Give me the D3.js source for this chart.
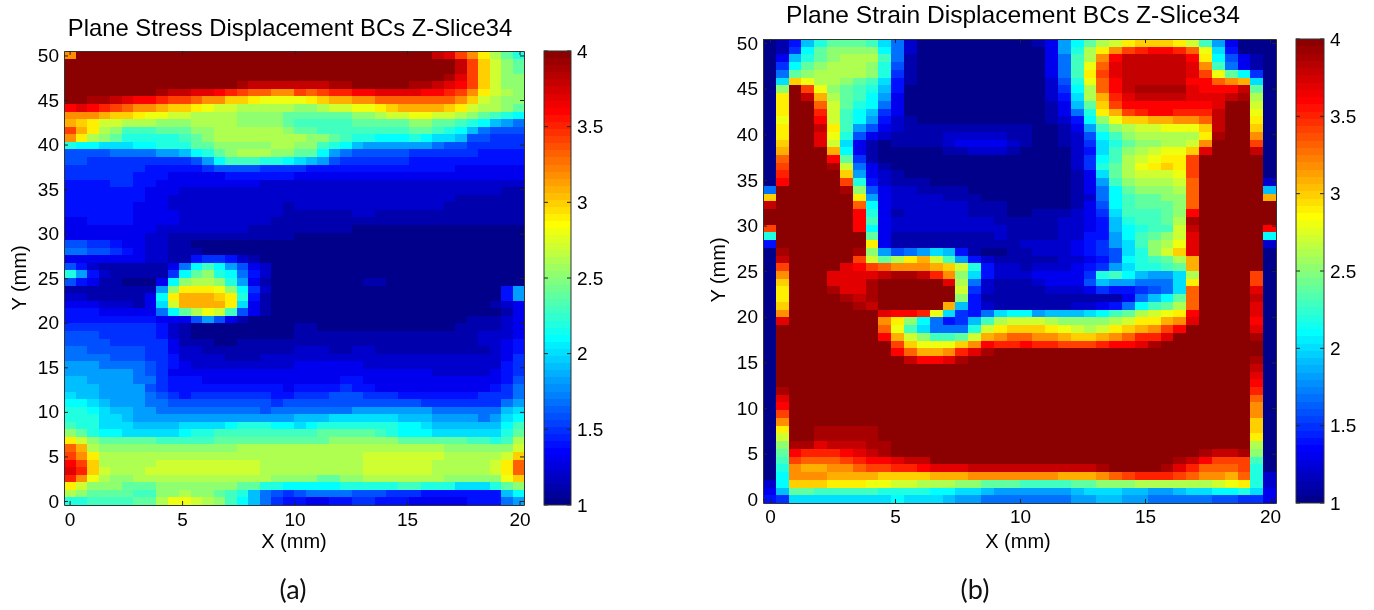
<!DOCTYPE html>
<html>
<head>
<title>Plane stress and plane strain displacement BCs</title>
<script src="https://d3js.org/d3.v7.min.js"></script>
<style>
    body { margin: 0; background: #fff; }
    svg { display: block; }
    text { font-family: "Liberation Sans", Arial, sans-serif; fill: #111; }
</style>
</head>
<body>
<div id="chart"></div>
<script>
// tick labels
const xTicks = [0, 5, 10, 15, 20];
const yTicks = [0, 5, 10, 15, 20, 25, 30, 35, 40, 45, 50];
const barTicks = [1, 1.5, 2, 2.5, 3, 3.5, 4];

// cell values x10, top row is Y = 50
const stressValues = [
[32,40,40,40,40,40,40,40,40,40, 40,40,40,40,40,40,40,40,40,40, 40,40,40,40,40,40,40,40,40,40, 40,40,38,37,34,32,29,26,24,22],
[40,40,40,40,40,40,40,40,40,40, 40,40,40,40,40,40,40,40,40,40, 40,40,40,40,40,40,40,40,40,40, 40,40,40,40,38,34,30,27,25,24],
[40,40,40,40,40,40,40,40,40,40, 40,40,40,40,40,40,40,40,40,40, 40,40,40,40,40,40,40,40,40,40, 40,40,40,40,38,34,30,27,25,24],
[40,40,40,40,40,40,40,40,40,40, 40,40,40,40,40,40,40,40,40,40, 40,40,40,40,40,40,40,40,40,40, 40,40,40,39,37,34,30,27,25,25],
[40,40,40,40,40,40,40,40,40,40, 40,40,40,40,40,39,38,38,38,38, 38,38,38,39,39,40,40,40,40,40, 39,39,38,37,36,34,30,27,25,25],
[40,40,40,40,40,40,40,40,39,38, 38,37,37,36,35,34,33,33,32,32, 34,33,34,35,35,36,36,37,37,37, 37,36,36,35,34,32,29,27,26,25],
[40,40,39,39,38,37,36,36,35,34, 34,33,32,32,30,30,29,28,28,28, 28,29,30,31,31,32,32,33,33,33, 33,33,33,33,32,30,27,26,25,25],
[36,37,36,35,34,33,32,32,31,30, 30,29,28,27,27,26,26,26,26,26, 25,25,26,27,27,28,28,29,30,31, 31,31,31,30,29,27,26,26,25,24],
[32,32,32,31,30,30,29,28,28,27, 27,26,26,26,26,25,25,25,25,24, 24,24,24,24,24,25,25,26,27,27, 28,28,27,27,26,25,24,23,22,21],
[31,30,29,27,27,26,26,26,25,25, 25,26,26,26,26,25,25,25,25,24, 23,23,23,23,23,24,24,24,24,24, 25,25,24,24,23,22,21,19,18,17],
[34,31,29,26,25,23,23,23,24,24, 24,25,25,26,26,26,26,26,26,25, 24,24,23,23,23,23,23,23,23,23, 24,24,23,22,21,19,17,16,16,16],
[32,29,26,25,24,22,22,22,22,22, 23,24,25,26,26,26,26,26,26,26, 26,25,25,24,23,22,22,21,21,21, 22,21,20,20,19,16,16,15,15,15],
[22,21,21,20,20,20,21,21,22,22, 22,24,24,25,25,25,25,25,26,26, 25,25,23,22,21,19,18,18,18,18, 18,18,17,16,16,15,15,15,15,15],
[16,16,16,16,17,17,17,17,18,18, 19,21,22,24,25,26,26,26,25,25, 24,24,21,18,17,16,16,16,16,16, 15,15,15,15,15,15,14,14,14,14],
[16,16,15,15,15,15,15,15,15,15, 15,16,18,21,23,23,23,22,22,21, 20,19,18,16,15,15,15,15,15,15, 14,14,14,14,14,14,14,14,14,14],
[15,15,15,15,15,15,15,14,14,14, 14,14,15,16,16,16,16,15,15,15, 15,14,14,14,14,14,14,14,14,14, 14,14,14,14,13,13,13,13,13,13],
[15,15,15,15,15,15,14,14,14,13, 13,13,13,13,14,14,14,14,14,14, 13,13,13,13,13,13,13,13,13,13, 13,13,13,13,13,13,13,13,13,13],
[14,14,14,14,15,15,14,14,13,13, 13,13,13,13,13,13,13,12,12,12, 12,12,12,12,12,12,12,12,12,12, 12,12,12,12,12,12,12,12,12,12],
[14,14,14,14,14,14,14,13,13,13, 12,12,12,12,12,12,12,12,12,12, 12,12,12,12,12,12,12,12,12,12, 12,12,12,12,12,12,12,12,11,11],
[14,14,14,14,14,14,14,13,13,12, 12,12,12,12,12,12,12,12,12,12, 12,12,12,12,12,12,12,12,12,12, 12,12,12,12,11,11,11,11,11,11],
[14,14,14,14,14,14,13,13,13,12, 12,12,12,12,12,12,12,12,12,11, 12,12,12,12,12,12,12,12,12,12, 12,12,12,11,11,11,11,11,11,11],
[14,14,14,14,14,14,13,13,13,13, 12,12,12,12,12,12,12,12,12,11, 11,11,11,11,11,12,12,11,11,11, 11,11,11,11,11,11,11,11,11,11],
[13,13,14,14,14,14,13,13,13,13, 12,12,12,12,12,12,12,12,11,11, 11,11,11,11,11,11,11,11,11,11, 11,11,11,11,11,11,11,11,11,11],
[13,13,13,13,13,13,13,13,12,12, 12,12,12,12,12,12,11,11,11,11, 11,11,11,11,11,10,10,10,10,10, 10,10,10,10,10,10,10,10,10,10],
[13,13,13,13,13,13,13,12,12,11, 11,11,11,11,11,11,11,11,11,11, 10,10,10,10,10,10,10,10,10,10, 10,10,10,10,10,10,10,10,10,10],
[16,16,15,15,14,13,13,12,12,11, 11,10,10,10,10,10,10,10,10,10, 10,10,10,10,10,10,10,10,10,10, 10,10,10,10,10,10,10,10,10,10],
[17,17,16,16,15,14,13,12,12,11, 11,11,10,10,10,10,10,10,10,10, 10,10,10,10,10,10,10,10,10,10, 10,10,10,10,10,10,10,10,10,10],
[13,13,13,13,13,13,13,12,12,11, 11,14,15,15,14,12,11,10,10,10, 10,10,10,10,10,10,10,10,10,10, 10,10,10,10,10,10,10,10,10,10],
[16,14,12,11,11,11,11,11,11,13, 17,21,23,21,18,16,13,12,10,10, 10,10,10,10,10,10,10,10,10,10, 10,10,10,10,10,10,10,10,10,10],
[22,18,14,12,11,11,11,11,11,15, 21,24,25,22,21,17,14,12,10,10, 10,10,10,10,10,10,10,10,10,10, 10,10,10,10,10,10,10,10,10,10],
[16,14,13,11,11,10,10,10,13,21, 25,26,26,25,22,18,13,11,10,10, 10,10,10,10,10,10,11,11,10,10, 10,10,10,10,10,10,10,10,10,10],
[11,11,11,11,11,11,11,11,18,25, 29,29,29,28,25,21,15,12,10,10, 10,10,10,10,10,10,10,10,10,10, 10,10,10,10,10,10,10,10,14,18],
[12,12,11,11,11,11,11,13,21,29, 31,31,31,30,29,22,14,11,10,10, 10,10,10,10,10,10,10,10,10,10, 10,10,10,10,10,10,10,10,14,18],
[13,13,13,12,12,12,11,13,20,27, 31,31,31,31,29,20,13,11,10,10, 10,10,10,10,10,10,10,10,10,10, 10,10,10,10,10,10,10,11,12,13],
[14,14,14,13,13,13,13,13,17,21, 24,26,28,27,23,16,13,11,10,10, 10,10,10,10,10,10,10,10,10,10, 10,10,10,10,10,10,10,10,11,13],
[14,14,14,14,14,14,14,14,13,13, 13,16,18,16,13,11,10,10,10,10, 10,10,10,10,10,10,10,10,10,10, 10,10,10,10,10,11,11,11,12,13],
[15,15,15,15,15,15,15,15,14,12, 11,10,10,10,10,10,10,10,10,10, 11,11,10,10,10,10,10,10,10,10, 10,10,10,10,11,11,11,11,12,13],
[16,16,16,15,15,15,15,15,14,12, 11,10,10,10,10,10,10,10,10,10, 11,11,11,11,11,11,11,11,11,11, 11,11,11,11,11,11,12,12,12,13],
[16,16,16,16,15,15,15,15,15,13, 11,11,11,10,10,11,11,11,11,11, 11,11,11,11,11,11,11,11,11,11, 11,11,11,11,11,11,12,12,13,14],
[17,17,16,16,16,16,16,15,15,13, 12,12,11,11,11,11,11,11,11,11, 12,12,12,11,11,12,12,11,11,11, 11,11,11,11,11,11,11,12,13,14],
[17,17,17,17,16,16,16,15,15,14, 12,12,12,12,11,11,11,12,12,12, 12,12,12,12,12,12,12,12,12,12, 12,12,12,12,12,12,12,12,13,15],
[18,18,18,17,17,17,17,16,15,14, 13,12,12,12,12,12,12,12,12,12, 13,13,13,13,13,13,12,12,12,12, 12,12,12,12,12,12,12,12,14,15],
[18,18,18,18,18,18,17,16,15,13, 13,13,13,13,13,13,13,13,13,13, 13,13,13,13,13,13,13,13,13,13, 13,13,12,12,12,12,12,13,14,15],
[19,19,18,18,18,18,17,17,15,14, 14,14,13,13,13,13,13,13,13,13, 13,13,13,13,14,14,13,13,13,13, 13,13,13,13,13,13,13,13,14,16],
[19,19,19,18,18,18,18,16,15,14, 14,14,14,14,14,14,14,14,14,13, 14,14,14,14,15,14,14,13,13,13, 13,13,13,13,13,13,13,14,15,17],
[20,19,19,18,18,18,18,17,16,15, 14,15,15,15,15,15,15,15,14,14, 15,15,15,16,16,16,15,15,15,14, 14,14,14,14,14,14,15,15,15,17],
[21,21,20,19,18,18,18,17,17,16, 16,16,16,16,16,16,16,16,15,16, 16,16,16,16,16,16,16,16,16,16, 16,15,15,15,15,15,15,15,17,18],
[22,22,21,20,19,19,18,18,17,17, 17,17,17,17,17,17,17,16,17,17, 17,17,17,17,17,18,18,18,18,18, 18,18,17,17,17,17,17,17,19,20],
[22,22,22,20,20,19,18,18,18,18, 18,18,18,18,18,18,18,18,18,18, 19,19,19,20,20,20,20,20,20,19, 19,19,18,18,18,18,17,18,20,21],
[23,22,22,20,20,20,19,19,19,19, 20,20,20,20,21,22,22,22,21,21, 20,21,22,22,22,22,22,22,22,21, 21,20,19,19,19,19,19,19,21,23],
[25,24,22,21,21,20,20,20,20,20, 21,22,22,23,23,23,23,23,23,23, 23,23,24,24,24,24,24,23,22,21, 21,21,20,20,20,20,20,20,22,24],
[29,27,25,24,24,24,24,24,23,23, 23,23,23,24,24,24,24,24,24,24, 24,24,24,25,25,25,25,25,25,24, 24,24,24,24,24,23,23,22,23,26],
[33,31,26,25,25,25,25,25,25,25, 25,25,25,25,25,26,26,26,26,26, 26,26,26,26,26,26,26,26,26,26, 26,26,26,25,25,25,25,25,25,27],
[34,32,29,26,26,26,26,26,26,26, 26,26,26,26,26,26,26,26,26,26, 26,26,26,26,26,26,27,27,27,27, 27,27,27,26,26,26,26,26,27,30],
[36,34,30,26,26,26,26,26,27,27, 27,27,27,27,27,27,27,26,26,26, 26,26,26,26,26,26,27,27,27,27, 27,27,26,26,26,26,26,27,29,33],
[37,35,30,27,26,26,26,27,27,27, 27,27,27,27,27,27,27,26,26,26, 26,26,26,26,26,26,27,27,27,27, 27,27,26,26,26,26,26,27,29,33],
[35,32,28,26,25,25,26,26,26,26, 26,26,26,26,26,26,26,26,25,25, 25,25,24,24,25,25,26,26,26,26, 26,26,26,25,25,25,25,25,28,30],
[29,27,25,25,25,24,24,24,25,25, 25,25,25,25,25,24,24,22,22,21, 21,21,21,21,22,22,22,22,22,23, 23,22,22,22,20,20,20,22,24,25],
[26,25,24,24,24,24,23,23,25,25, 26,25,25,24,23,22,19,17,16,15, 16,17,17,17,17,16,16,16,15,15, 15,14,14,14,14,14,14,14,19,21],
[22,22,23,23,23,23,24,24,26,28, 28,27,26,25,23,21,19,17,15,14, 14,13,13,14,14,15,15,14,14,14, 13,13,13,13,13,14,14,14,17,18]
];

const strainValues = [
[10,11,14,19,22,24,24,24,23,20, 17,12,10,10,10,10,10,10,10,10, 10,11,13,18,21,24,26,27,29,30, 30,30,29,27,23,18,13,10,10,10],
[10,11,15,21,24,25,25,25,25,21, 17,12,10,10,10,10,10,10,10,10, 10,10,13,18,22,26,29,32,34,35, 36,36,35,33,28,20,14,10,10,10],
[10,13,19,22,24,25,26,26,26,23, 17,11,10,10,10,10,10,10,10,10, 10,10,13,17,23,26,32,36,38,38, 38,38,38,36,29,21,16,13,11,10],
[10,15,21,24,25,26,26,26,25,22, 16,11,10,10,10,10,10,10,10,10, 10,10,13,17,23,28,33,37,38,38, 38,38,38,37,32,23,17,13,11,10],
[10,17,24,25,26,26,26,26,25,22, 15,11,10,10,10,10,10,10,10,10, 10,10,13,17,23,29,34,37,38,38, 38,38,38,37,34,28,24,21,15,10],
[10,20,30,28,26,26,25,24,23,20, 14,11,10,10,10,10,10,10,10,10, 10,10,12,16,22,28,33,36,38,38, 38,38,38,36,36,33,32,31,20,10],
[10,25,40,34,28,25,24,23,22,19, 14,10,10,10,10,10,10,10,10,10, 10,10,12,15,21,26,33,36,38,39, 39,39,39,37,36,36,36,38,24,10],
[10,29,40,38,31,26,24,23,21,18, 13,10,10,10,10,10,10,10,10,10, 10,10,12,14,20,26,31,35,37,38, 38,38,38,37,37,37,38,39,26,10],
[10,29,40,40,33,27,24,22,21,17, 13,10,10,10,10,10,10,10,10,10, 10,10,11,13,19,24,30,34,36,36, 36,36,36,36,36,37,40,40,27,10],
[10,29,40,40,35,27,23,21,19,15, 13,10,10,10,10,10,10,10,10,10, 10,10,11,13,17,22,29,31,34,35, 36,36,35,35,35,38,40,40,28,10],
[10,28,40,40,36,27,23,21,18,14, 12,11,10,10,10,10,10,10,10,10, 10,10,11,12,14,21,25,28,30,30, 31,31,32,32,33,38,40,40,29,10],
[10,29,40,40,38,29,23,18,16,13, 12,11,11,11,11,11,11,11,11,11, 11,10,10,11,13,18,23,25,26,27, 27,28,28,28,30,38,40,40,30,10],
[10,29,40,40,37,28,22,16,13,12, 11,11,11,11,12,12,12,12,12,11, 11,10,10,11,12,16,21,23,25,26, 26,26,26,26,29,39,40,40,32,10],
[10,30,40,40,37,27,20,13,11,10, 11,11,11,11,12,13,13,13,13,12, 11,10,10,11,12,15,20,22,24,25, 25,26,26,27,32,40,40,40,34,10],
[10,31,40,40,40,31,21,13,11,10, 10,10,10,10,11,11,12,12,12,11, 10,10,10,10,12,14,20,23,25,26, 27,28,28,30,37,40,40,40,38,10],
[10,33,40,40,40,36,24,15,11,10, 10,10,10,10,10,10,10,10,10,10, 10,10,10,10,12,15,21,23,26,27, 28,29,29,34,40,40,40,40,40,10],
[10,34,40,40,40,39,27,17,13,11, 10,10,10,10,10,10,10,10,10,10, 10,10,10,10,12,15,22,24,26,28, 29,30,29,34,40,40,40,40,40,10],
[10,35,40,40,40,40,30,18,13,12, 11,10,10,10,10,10,10,10,10,10, 10,10,10,10,11,13,20,24,26,27, 27,27,28,34,40,40,40,40,40,10],
[10,36,40,40,40,40,34,22,14,12, 11,11,11,10,10,10,10,10,10,10, 10,10,10,10,11,13,18,23,25,26, 26,26,27,33,40,40,40,40,40,12],
[17,40,40,40,40,40,39,25,16,13, 12,12,11,11,11,11,10,10,10,10, 10,10,10,10,11,13,17,21,24,25, 25,25,26,33,40,40,40,40,40,19],
[30,40,40,40,40,40,40,29,18,13, 12,12,12,12,11,11,11,10,10,10, 10,10,10,10,11,12,17,21,23,24, 24,25,25,33,40,40,40,40,40,31],
[38,40,40,40,40,40,40,33,21,13, 12,12,12,12,12,12,11,11,11,10, 10,10,10,10,11,13,16,21,23,24, 24,24,25,33,40,40,40,40,40,40],
[40,40,40,40,40,40,40,36,22,13, 11,12,12,12,12,12,11,11,11,10, 10,11,11,11,12,13,15,20,23,23, 23,24,25,36,40,40,40,40,40,40],
[40,40,40,40,40,40,40,36,23,13, 12,12,12,12,12,12,12,12,11,11, 11,11,11,12,12,13,14,19,22,23, 23,24,26,39,40,40,40,40,40,40],
[34,40,40,40,40,40,40,36,21,13, 12,12,12,12,12,12,12,12,12,11, 11,11,11,12,12,13,14,19,21,22, 23,23,27,38,40,40,40,40,40,36],
[22,40,40,40,40,40,40,40,24,13, 11,11,11,11,11,11,11,11,12,11, 11,11,11,12,12,14,14,18,21,23, 24,25,27,37,40,40,40,40,40,21],
[14,40,40,40,40,40,40,40,29,13, 11,11,11,11,11,11,11,11,11,11, 12,12,12,12,13,14,15,18,20,23, 25,26,28,37,40,40,40,40,40,12],
[10,39,40,40,40,40,40,39,25,18, 16,17,18,20,19,14,11,10,10,11, 11,12,12,12,13,14,15,16,20,22, 25,27,30,37,40,40,40,40,40,10],
[10,38,40,40,40,40,40,34,27,24, 26,29,31,27,23,18,14,12,11,11, 11,11,11,12,12,13,14,16,21,22, 23,24,26,31,40,40,40,40,40,10],
[10,34,40,40,40,40,37,36,34,33, 32,32,32,31,30,27,22,14,12,12, 11,12,12,12,13,14,15,18,20,22, 22,23,24,31,40,40,40,40,40,10],
[10,32,40,40,40,37,37,37,37,38, 39,39,38,35,32,25,20,14,12,12, 12,13,13,13,13,15,22,23,21,19, 18,18,20,26,40,40,40,40,34,10],
[10,30,40,40,40,37,37,37,39,40, 40,40,40,40,37,26,17,12,11,11, 11,12,13,13,13,16,19,18,18,17, 17,17,20,29,40,40,40,40,34,10],
[10,29,40,40,40,39,37,37,39,40, 40,40,40,40,40,27,15,12,11,11, 11,11,12,12,12,13,15,14,14,15, 16,17,20,33,40,40,40,40,37,10],
[10,29,40,40,40,40,39,38,39,40, 40,40,40,40,40,25,14,11,11,11, 11,11,11,11,11,11,11,11,13,17, 19,21,24,33,40,40,40,40,38,10],
[10,30,40,40,40,40,40,39,38,40, 40,40,40,40,31,19,14,12,11,11, 11,11,11,11,12,12,13,14,17,21, 23,24,26,33,40,40,40,40,37,10],
[10,32,40,40,40,40,40,40,40,37, 36,36,35,28,20,15,14,17,20,21, 21,18,19,19,19,20,21,23,24,26, 27,28,29,36,40,40,40,40,37,10],
[10,37,40,40,40,40,40,40,40,32, 29,25,21,17,14,15,19,23,26,27, 27,27,26,25,25,25,25,26,27,29, 29,31,32,37,40,40,40,40,36,10],
[10,40,40,40,40,40,40,40,40,33, 28,23,20,17,17,17,22,27,29,30, 30,30,29,28,27,26,27,29,30,31, 32,34,36,40,40,40,40,40,37,10],
[10,40,40,40,40,40,40,40,40,36, 31,27,25,23,23,24,27,31,32,33, 33,32,32,31,30,30,31,32,33,35, 35,37,40,40,40,40,40,40,39,10],
[10,40,40,40,40,40,40,40,40,40, 34,30,28,28,28,30,32,36,35,35, 36,35,35,34,34,34,35,36,36,37, 39,40,40,40,40,40,40,40,40,10],
[10,40,40,40,40,40,40,40,40,40, 36,33,31,31,32,35,37,39,40,40, 40,40,40,40,40,40,40,40,40,40, 40,40,40,40,40,40,40,40,40,10],
[10,40,40,40,40,40,40,40,40,40, 40,38,36,36,37,39,40,40,40,40, 40,40,40,40,40,40,40,40,40,40, 40,40,40,40,40,40,40,40,39,10],
[10,40,40,40,40,40,40,40,40,40, 40,40,40,40,40,40,40,40,40,40, 40,40,40,40,40,40,40,40,40,40, 40,40,40,40,40,40,40,40,38,10],
[10,40,40,40,40,40,40,40,40,40, 40,40,40,40,40,40,40,40,40,40, 40,40,40,40,40,40,40,40,40,40, 40,40,40,40,40,40,40,40,37,10],
[10,40,40,40,40,40,40,40,40,40, 40,40,40,40,40,40,40,40,40,40, 40,40,40,40,40,40,40,40,40,40, 40,40,40,40,40,40,40,40,36,10],
[10,39,40,40,40,40,40,40,40,40, 40,40,40,40,40,40,40,40,40,40, 40,40,40,40,40,40,40,40,40,40, 40,40,40,40,40,40,40,40,35,10],
[10,37,40,40,40,40,40,40,40,40, 40,40,40,40,40,40,40,40,40,40, 40,40,40,40,40,40,40,40,40,40, 40,40,40,40,40,40,40,40,33,10],
[10,36,40,40,40,40,40,40,40,40, 40,40,40,40,40,40,40,40,40,40, 40,40,40,40,40,40,40,40,40,40, 40,40,40,40,40,40,40,40,32,10],
[10,34,40,40,40,40,40,40,40,40, 40,40,40,40,40,40,40,40,40,40, 40,40,40,40,40,40,40,40,40,40, 40,40,40,40,40,40,40,40,32,10],
[10,32,40,40,40,40,40,40,40,40, 40,40,40,40,40,40,40,40,40,40, 40,40,40,40,40,40,40,40,40,40, 40,40,40,40,40,40,40,40,30,10],
[10,29,40,40,39,39,39,39,39,40, 40,40,40,40,40,40,40,40,40,40, 40,40,40,40,40,40,40,40,40,40, 40,40,40,40,40,40,40,40,30,10],
[10,27,40,40,39,39,39,39,39,40, 40,40,40,40,40,40,40,40,40,40, 40,40,40,40,40,40,40,40,40,40, 40,40,40,40,40,40,40,40,29,10],
[10,25,39,39,37,38,38,38,39,39, 40,40,40,40,40,40,40,40,40,40, 40,40,40,40,40,40,40,40,40,40, 40,40,40,40,40,40,40,40,26,10],
[10,24,36,35,35,35,36,37,38,39, 40,40,40,40,40,40,40,40,40,40, 40,40,40,40,40,40,40,40,40,40, 40,40,40,40,39,38,38,39,25,10],
[10,23,34,33,33,33,34,35,36,36, 37,38,38,40,40,40,40,40,40,40, 40,40,40,40,40,40,40,40,40,40, 40,40,39,38,36,34,34,34,23,10],
[10,22,32,31,31,32,32,33,34,34, 35,35,36,37,37,37,38,38,38,38, 38,38,38,38,38,38,39,40,40,40, 40,39,37,35,33,33,33,34,22,10],
[10,21,32,32,32,31,31,31,31,30, 30,30,30,31,31,31,32,32,32,32, 32,32,32,31,31,31,32,33,34,35, 35,35,34,33,32,32,31,33,22,12],
[12,21,30,30,30,29,29,29,28,28, 27,27,26,26,26,25,25,24,24,24, 23,23,23,23,24,24,25,25,25,26, 26,26,26,26,26,27,28,29,22,12],
[13,19,24,24,23,23,23,23,23,22, 22,22,22,21,21,20,20,19,18,18, 18,18,18,18,19,20,20,20,19,19, 18,18,19,20,20,21,21,22,20,13],
[14,15,20,20,20,20,20,20,20,20, 21,20,20,20,19,18,18,17,17,17, 17,17,17,17,18,18,19,19,18,18, 17,17,17,17,17,16,16,15,15,13]
];

const width = 1374;
const height = 610;

const svg = d3.select("#chart").append("svg")
    .attr("width", width)
    .attr("height", height)
    .style("filter", "blur(0.5px)");

// 64 step jet colormap, same as the matlab default
const jet = d3.scaleLinear()
    .domain([0, 7, 23, 39, 55, 63])
    .range(["#00008b", "#0000ff", "#00ffff", "#ffff00", "#ff0000", "#8b0000"]);
const level = v => Math.min(63, Math.floor((v - 1) / 3 * 64));

function drawPanel(p) {
    const g = svg.append("g");

    const col = d3.scaleBand().domain(d3.range(40)).range([p.left, p.right]);
    const row = d3.scaleBand().domain(d3.range(60)).range([p.top, p.bottom]);
    const x = d3.scaleLinear().domain(p.xDomain).range([p.left, p.right]);
    const y = d3.scaleLinear().domain(p.yDomain).range([p.bottom, p.top]);

    g.selectAll(".r")
        .data(p.values)
        .join("g")
        .attr("shape-rendering", "crispEdges")
        .selectAll("rect")
        .data((d, i) => d.map((v, j) => ({ v, i, j })))
        .join("rect")
        .attr("x", d => col(d.j))
        .attr("y", d => row(d.i))
        .attr("width", col.bandwidth())
        .attr("height", row.bandwidth())
        .attr("fill", d => jet(level(d.v / 10)));

    // ticks point inwards on all four sides
    const styleAxis = a => {
        a.select(".domain").attr("stroke", "#333");
        a.selectAll("line").attr("stroke", "#222");
        a.selectAll("text").style("font-size", p.tickFont + "px").style("fill", "#000");
    };
    g.append("g").attr("transform", `translate(0,${p.bottom})`)
        .call(d3.axisBottom(x).tickValues(xTicks).tickSize(-4).tickPadding(p.xPad).tickSizeOuter(0))
        .call(styleAxis);
    g.append("g").attr("transform", `translate(0,${p.top})`)
        .call(d3.axisTop(x).tickValues(xTicks).tickSize(-4).tickFormat("").tickSizeOuter(0))
        .call(styleAxis);
    g.append("g").attr("transform", `translate(${p.left},0)`)
        .call(d3.axisLeft(y).tickValues(yTicks).tickSize(-4).tickPadding(p.yPad).tickSizeOuter(0))
        .call(styleAxis);
    g.append("g").attr("transform", `translate(${p.right},0)`)
        .call(d3.axisRight(y).tickValues(yTicks).tickSize(-4).tickFormat("").tickSizeOuter(0))
        .call(styleAxis);

    // colorbar
    const barRow = d3.scaleBand().domain(d3.range(64)).range([p.bottom, p.top]);
    const barY = d3.scaleLinear().domain([1, 4]).range([p.bottom, p.top]);
    g.append("g").attr("shape-rendering", "crispEdges")
        .selectAll("rect")
        .data(d3.range(64))
        .join("rect")
        .attr("x", p.barLeft)
        .attr("y", d => barRow(d))
        .attr("width", p.barRight - p.barLeft)
        .attr("height", barRow.bandwidth())
        .attr("fill", d => jet(d));
    g.append("g").attr("transform", `translate(${p.barRight},0)`)
        .call(d3.axisRight(barY).tickValues(barTicks).tickFormat(d3.format("")).tickSize(0).tickPadding(6).tickSizeOuter(0))
        .call(a => { a.select(".domain").remove(); a.selectAll("text").style("font-size", p.barFont + "px").style("fill", "#000"); });
    g.selectAll(".bt")
        .data(barTicks)
        .join("line")
        .attr("x1", p.barLeft).attr("x2", p.barLeft + 4)
        .attr("y1", d => barY(d)).attr("y2", d => barY(d))
        .attr("stroke", "#222");
    g.selectAll(".bt2")
        .data(barTicks)
        .join("line")
        .attr("x1", p.barRight - 4).attr("x2", p.barRight)
        .attr("y1", d => barY(d)).attr("y2", d => barY(d))
        .attr("stroke", "#222");
    g.append("rect")
        .attr("x", p.barLeft).attr("y", p.top)
        .attr("width", p.barRight - p.barLeft).attr("height", p.bottom - p.top)
        .attr("fill", "none").attr("stroke", "#333");

    g.append("text").attr("x", p.titleX).attr("y", p.titleY)
        .attr("text-anchor", "middle").style("font-size", p.titleFont + "px").style("fill", "#000").text(p.title);
    g.append("text").attr("x", p.xLabelX).attr("y", p.xLabelY)
        .attr("text-anchor", "middle").style("font-size", p.labelFont + "px").style("fill", "#000").text("X (mm)");
    g.append("text")
        .attr("transform", `translate(${p.yLabelX},${p.yLabelY}) rotate(-90)`)
        .attr("text-anchor", "middle").style("font-size", p.labelFont + "px").style("fill", "#000").text("Y (mm)");
    g.append("text").attr("x", p.tagX).attr("y", 599)
        .attr("text-anchor", "middle")
        .style("font-family", "Lato, 'Open Sans', sans-serif")
        .style("font-size", "27px").text(p.tag);
}

drawPanel({
    values: stressValues,
    left: 64, right: 524, top: 51, bottom: 505,
    xDomain: [-0.25, 20.2], yDomain: [-0.45, 50.5],
    barLeft: 544, barRight: 571,
    tickFont: 19, barFont: 19, xPad: 8, yPad: 5, titleFont: 23.8, labelFont: 20,
    title: "Plane Stress Displacement BCs Z-Slice34", titleX: 290, titleY: 36,
    xLabelX: 294, xLabelY: 548, yLabelX: 26, yLabelY: 278,
    tag: "(a)", tagX: 293
});

drawPanel({
    values: strainValues,
    left: 763, right: 1276, top: 39, bottom: 503,
    xDomain: [-0.28, 20.24], yDomain: [-0.4, 50.44],
    barLeft: 1296, barRight: 1324,
    tickFont: 19, barFont: 19, xPad: 7, yPad: 5, titleFont: 24.6, labelFont: 20,
    title: "Plane Strain Displacement BCs Z-Slice34", titleX: 1013, titleY: 23,
    xLabelX: 1018, xLabelY: 548, yLabelX: 725, yLabelY: 270,
    tag: "(b)", tagX: 975
});
</script>
</body>
</html>
